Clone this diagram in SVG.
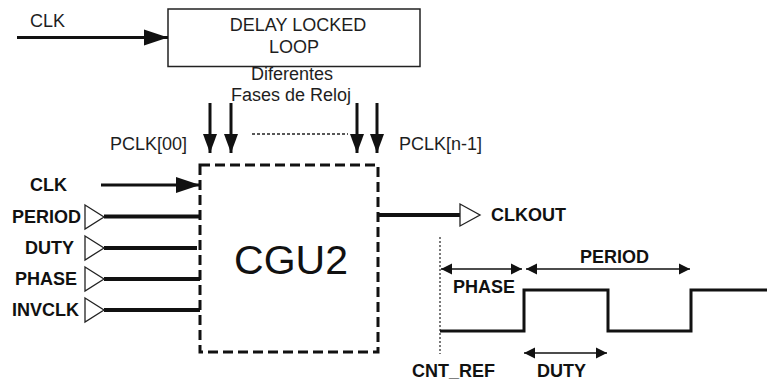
<svg xmlns="http://www.w3.org/2000/svg" width="767" height="383" viewBox="0 0 767 383">
<style>
.t{font-family:"Liberation Sans",Arial,sans-serif;font-size:18px;fill:#1e1e1e}
.b{font-weight:bold;fill:#111}
.thick{stroke:#111;stroke-width:4;fill:none}
.med{stroke:#111;stroke-width:3;fill:none}
.thin{stroke:#111;stroke-width:1.5;fill:none}
.buf{fill:#fff;stroke:#222;stroke-width:1.3}
</style>
<defs>
<marker id="big" markerUnits="userSpaceOnUse" markerWidth="26" markerHeight="18" refX="24" refY="9" orient="auto">
<path d="M0,1 L24,9 L0,17 Z" fill="#111"/>
</marker>
<marker id="down" markerUnits="userSpaceOnUse" markerWidth="20" markerHeight="14" refX="19" refY="7" orient="auto">
<path d="M0,0 L19,7 L0,14 Z" fill="#111"/>
</marker>
<marker id="sm" markerUnits="userSpaceOnUse" markerWidth="12" markerHeight="12" refX="11" refY="6" orient="auto-start-reverse">
<path d="M0,0.5 L11,6 L0,11.5 Z" fill="#111"/>
</marker>
</defs>
<rect width="767" height="383" fill="#fff"/>

<g id="dll">
<rect x="168" y="9" width="252" height="57.5" fill="#fff" stroke="#222" stroke-width="1.5"/>
<text class="t" x="298" y="31" text-anchor="middle">DELAY LOCKED</text>
<text class="t" x="294" y="53" text-anchor="middle">LOOP</text>
</g>

<g id="phases-label">
<text class="t" x="292" y="80" text-anchor="middle">Diferentes</text>
<text class="t" x="291" y="101" text-anchor="middle">Fases de Reloj</text>
</g>

<g id="cgu2">
<rect x="200" y="165" width="178" height="187" fill="none" stroke="#111" stroke-width="3" stroke-dasharray="10,5"/>
<text class="t" x="291" y="274" text-anchor="middle" style="font-size:41px;fill:#111">CGU2</text>
</g>

<g id="labels">
<text class="t" x="30" y="27">CLK</text>
<text class="t" x="110" y="150">PCLK[00]</text>
<text class="t" x="399" y="150">PCLK[n-1]</text>
<text class="t b" x="30" y="191">CLK</text>
<text class="t b" x="81" y="223" text-anchor="end">PERIOD</text>
<text class="t b" x="74" y="254" text-anchor="end">DUTY</text>
<text class="t b" x="77" y="285" text-anchor="end">PHASE</text>
<text class="t b" x="79" y="316" text-anchor="end">INVCLK</text>
<text class="t b" x="491" y="221">CLKOUT</text>
<text class="t b" x="580" y="263">PERIOD</text>
<text class="t b" x="453" y="293">PHASE</text>
<text class="t b" x="412" y="377">CNT_REF</text>
<text class="t b" x="537" y="377">DUTY</text>
</g>

<g id="connectors">
<line class="med" x1="17" y1="37.5" x2="168" y2="37.5" marker-end="url(#big)"/>
<line class="med" x1="101" y1="185" x2="200" y2="185" marker-end="url(#big)"/>
<line class="med" x1="210" y1="103" x2="210" y2="153" marker-end="url(#down)"/>
<line class="med" x1="231" y1="103" x2="231" y2="153" marker-end="url(#down)"/>
<line class="med" x1="357" y1="103" x2="357" y2="153" marker-end="url(#down)"/>
<line class="med" x1="377" y1="103" x2="377" y2="153" marker-end="url(#down)"/>
<line x1="252" y1="134" x2="348" y2="134" stroke="#222" stroke-width="1.4" stroke-dasharray="3,2"/>
<line class="thick" x1="104" y1="216.5" x2="200" y2="216.5"/>
<line class="thick" x1="104" y1="248" x2="197" y2="248"/>
<line class="thick" x1="104" y1="279" x2="200" y2="279"/>
<line class="thick" x1="104" y1="310" x2="200" y2="310"/>
<polygon class="buf" points="85,205 104,217 85,229"/>
<polygon class="buf" points="85,236 104,248 85,260"/>
<polygon class="buf" points="85,267 104,279 85,291"/>
<polygon class="buf" points="85,298 104,310 85,322"/>
<line class="thick" x1="378" y1="215" x2="460" y2="215"/>
<polygon class="buf" points="460,204 480,215 460,226"/>
<line x1="440" y1="237" x2="440" y2="354" stroke="#222" stroke-width="1.2" stroke-dasharray="2,2"/>
<polyline class="med" points="440,331 524,331 524,290 608,290 608,331 691,331 691,290 767,290"/>
<line class="thin" x1="441" y1="269" x2="522" y2="269" marker-start="url(#sm)" marker-end="url(#sm)"/>
<line class="thin" x1="526" y1="269" x2="690" y2="269" marker-start="url(#sm)" marker-end="url(#sm)"/>
<line class="thin" x1="524" y1="353" x2="607" y2="353" marker-start="url(#sm)" marker-end="url(#sm)"/>
</g>
</svg>
